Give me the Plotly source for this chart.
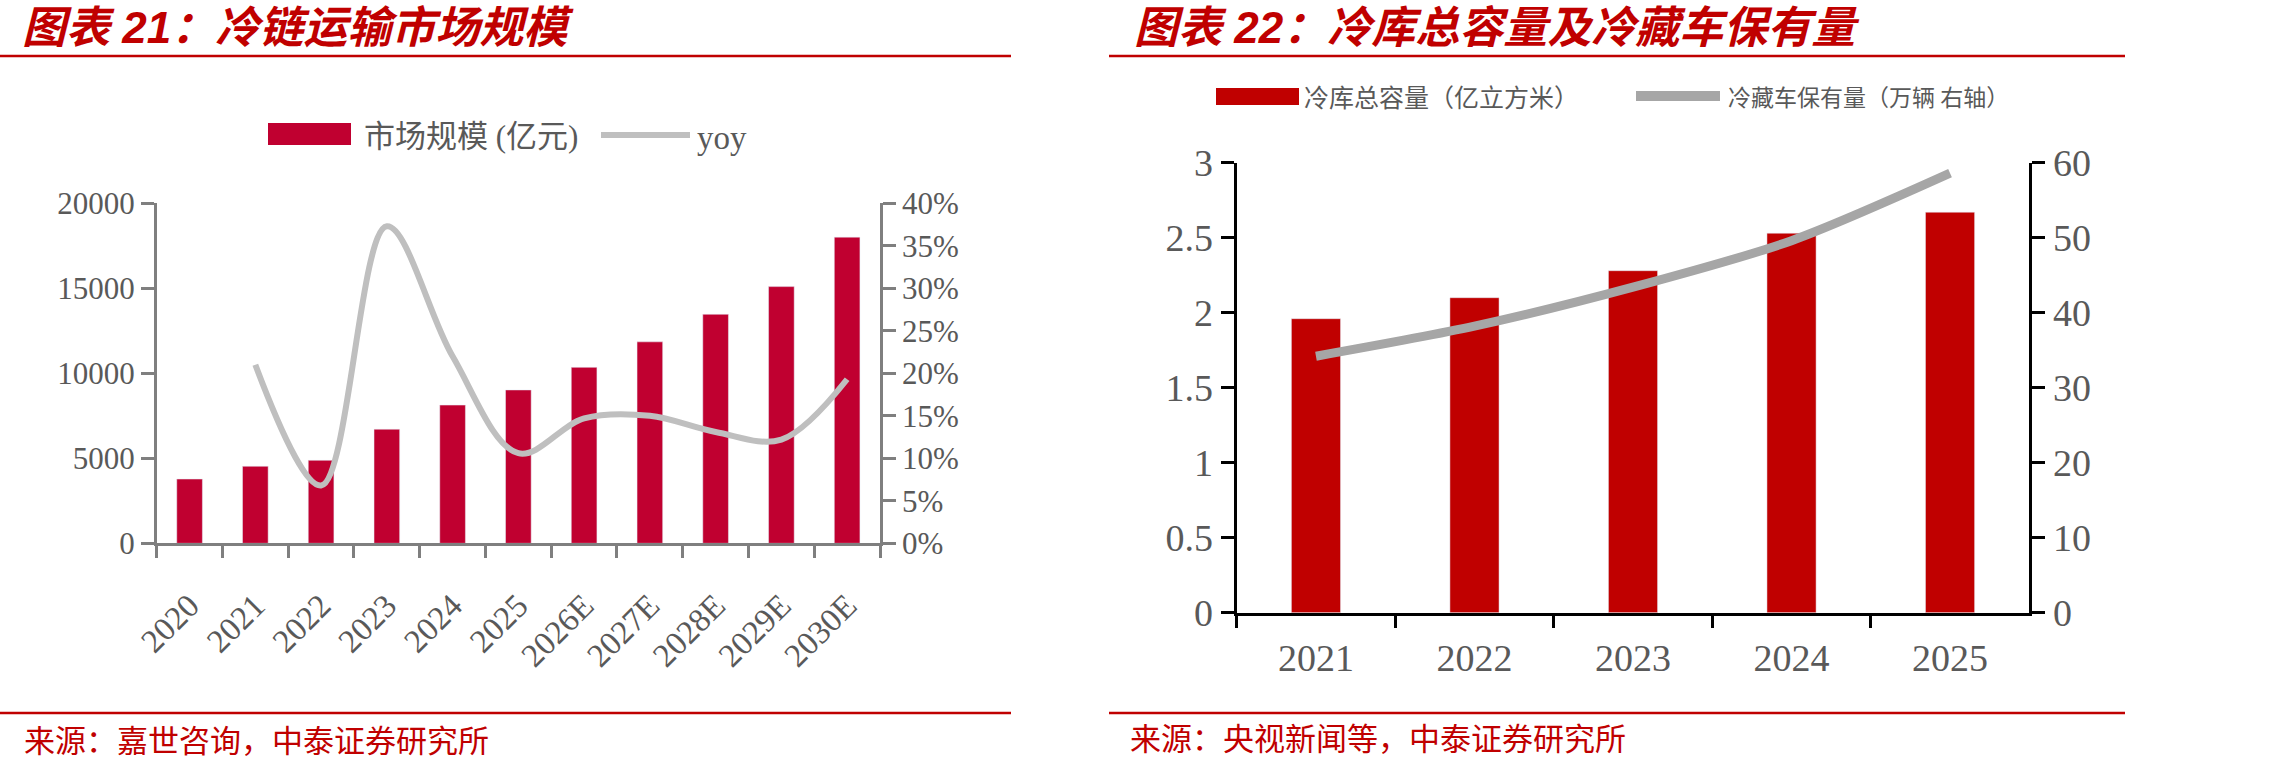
import plotly.graph_objects as go

W, H = 2280, 766

# ---------------- data ----------------
years_left = ["2020", "2021", "2022", "2023", "2024", "2025",
              "2026E", "2027E", "2028E", "2029E", "2030E"]
market_size = [3780, 4530, 4880, 6710, 8130, 9020, 10350, 11850, 13470, 15100, 18010]
yoy = [None, 0.210, 0.068, 0.373, 0.220, 0.106, 0.147, 0.150, 0.131, 0.122, 0.193]

years_right = ["2021", "2022", "2023", "2024", "2025"]
cold_storage = [1.96, 2.10, 2.28, 2.53, 2.67]
reefer_trucks = [34.2, 38.2, 43.4, 49.6, 58.6]

title_left = "图表 21：冷链运输市场规模"
title_right = "图表 22：冷库总容量及冷藏车保有量"
source_left = "来源：嘉世咨询，中泰证券研究所"
source_right = "来源：央视新闻等，中泰证券研究所"
leg_left = ["市场规模 (亿元)", "yoy"]
leg_right = ["冷库总容量（亿立方米）", "冷藏车保有量（万辆 右轴）"]

# ---------------- helpers ----------------
def px(x):
    return x / W

def py(y):
    return 1 - y / H

RED_T = "#C00000"
BAR_L = "#C00030"
BAR_R = "#C00000"
LINE_L = "#BFBFBF"
LINE_R = "#A6A6A6"
TICK_C = "#595959"
SERIF = "Liberation Serif, Times New Roman, serif"
CJK = "Liberation Serif, Noto Sans CJK SC, sans-serif"

fig = go.Figure()

fig.add_trace(go.Bar(x=years_left, y=market_size, marker_color=BAR_L,
                     xaxis="x", yaxis="y", showlegend=False))
fig.add_trace(go.Scatter(x=years_left, y=yoy, mode="lines",
                         line=dict(color=LINE_L, width=6, shape="spline", smoothing=1.0),
                         xaxis="x", yaxis="y2", showlegend=False, connectgaps=False))

fig.add_trace(go.Bar(x=years_right, y=cold_storage, marker_color=BAR_R, width=0.31,
                     xaxis="x2", yaxis="y3", showlegend=False))
fig.add_trace(go.Scatter(x=years_right, y=reefer_trucks, mode="lines",
                         line=dict(color=LINE_R, width=9, shape="spline", smoothing=0.8),
                         xaxis="x2", yaxis="y4", showlegend=False))

# plot area pixel boxes
L = dict(x0=156.7, x1=880.0, y0=203.3, y1=543.3)
R = dict(x0=1236.7, x1=2029.3, y0=162.7, y1=612.7)

axL = dict(showline=True, linecolor="#7F7F7F", linewidth=2.5, ticks="outside",
           tickcolor="#7F7F7F", tickwidth=2.5, showgrid=False, zeroline=False,
           automargin=False)
axR = dict(showline=True, linecolor="#000000", linewidth=3, ticks="outside",
           tickcolor="#000000", tickwidth=3, showgrid=False, zeroline=False,
           automargin=False, tickfont=dict(family=SERIF, size=38, color=TICK_C))

fig.update_layout(
    width=W, height=H, margin=dict(l=0, r=0, t=0, b=0, autoexpand=False),
    paper_bgcolor="white", plot_bgcolor="white",
    bargap=0.61,
    xaxis=dict(domain=[px(L["x0"]), px(L["x1"])], anchor="y", type="category",
               tickson="boundaries", tickangle=-45, ticklen=12, ticklabelstandoff=27,
               tickfont=dict(family=SERIF, size=33, color=TICK_C), **axL),
    yaxis=dict(domain=[py(L["y1"]), py(L["y0"])], anchor="x", range=[0, 20000],
               dtick=5000, tickformat="d", ticklen=13,
               tickfont=dict(family=SERIF, size=31, color=TICK_C), **axL),
    yaxis2=dict(domain=[py(L["y1"]), py(L["y0"])], anchor="x", overlaying="y", side="right",
                range=[0, 0.4], dtick=0.05, tickformat=".0%", ticklen=13,
                tickfont=dict(family=SERIF, size=31, color=TICK_C), **axL),
    xaxis2=dict(domain=[px(R["x0"]), px(R["x1"])], anchor="y3", type="category",
                tickson="boundaries", ticklen=12, ticklabelstandoff=10, **axR),
    yaxis3=dict(domain=[py(R["y1"]), py(R["y0"])], anchor="x2", range=[0, 3],
                dtick=0.5, ticklen=13, **axR),
    yaxis4=dict(domain=[py(R["y1"]), py(R["y0"])], anchor="x2", overlaying="y3", side="right",
                range=[0, 60], dtick=10, ticklen=13, **axR),
)

shapes = []
annotations = []

# titles + rules
for x0, x1 in [(0, 1011), (1109, 2125)]:
    for yy in [56, 713]:
        shapes.append(dict(type="line", xref="paper", yref="paper", x0=px(x0), x1=px(x1),
                           y0=py(yy), y1=py(yy), line=dict(color=RED_T, width=2.5)))

title_font = dict(family="Liberation Sans, Noto Sans CJK SC", size=44,
                  color=RED_T, weight="bold", style="italic")
annotations.append(dict(text=title_left, xref="paper", yref="paper", x=px(20), y=py(27),
                        xanchor="left", yanchor="middle", showarrow=False, font=title_font))
annotations.append(dict(text=title_right, xref="paper", yref="paper", x=px(1132), y=py(27),
                        xanchor="left", yanchor="middle", showarrow=False, font=title_font))
annotations.append(dict(text=source_left, xref="paper", yref="paper", x=px(22), y=py(738),
                        xanchor="left", yanchor="middle", showarrow=False,
                        font=dict(family="Noto Sans CJK SC", size=31, color=RED_T)))
annotations.append(dict(text=source_right, xref="paper", yref="paper", x=px(1128), y=py(736),
                        xanchor="left", yanchor="middle", showarrow=False,
                        font=dict(family="Noto Sans CJK SC", size=31, color=RED_T)))

# left legend
shapes.append(dict(type="rect", xref="paper", yref="paper", x0=px(268), x1=px(351),
                   y0=py(145), y1=py(123), fillcolor=BAR_L, line=dict(width=0)))
annotations.append(dict(text=leg_left[0], xref="paper", yref="paper", x=px(362), y=py(136),
                        xanchor="left", yanchor="middle", showarrow=False,
                        font=dict(family=CJK, size=31, color=TICK_C)))
shapes.append(dict(type="line", xref="paper", yref="paper", x0=px(601), x1=px(690),
                   y0=py(135), y1=py(135), line=dict(color=LINE_L, width=6)))
annotations.append(dict(text=leg_left[1], xref="paper", yref="paper", x=px(695), y=py(138),
                        xanchor="left", yanchor="middle", showarrow=False,
                        font=dict(family=SERIF, size=33, color=TICK_C)))

# right legend
shapes.append(dict(type="rect", xref="paper", yref="paper", x0=px(1216), x1=px(1299),
                   y0=py(105), y1=py(88), fillcolor=BAR_R, line=dict(width=0)))
annotations.append(dict(text=leg_right[0], xref="paper", yref="paper", x=px(1302), y=py(96),
                        xanchor="left", yanchor="middle", showarrow=False,
                        font=dict(family="Noto Sans CJK SC", size=25, color=TICK_C)))
shapes.append(dict(type="line", xref="paper", yref="paper", x0=px(1636), x1=px(1720),
                   y0=py(96), y1=py(96), line=dict(color=LINE_R, width=10)))
annotations.append(dict(text=leg_right[1], xref="paper", yref="paper", x=px(1726), y=py(96),
                        xanchor="left", yanchor="middle", showarrow=False,
                        font=dict(family="Noto Sans CJK SC", size=23, color=TICK_C)))

fig.update_layout(shapes=shapes, annotations=annotations)

fig.write_html("out.html")
